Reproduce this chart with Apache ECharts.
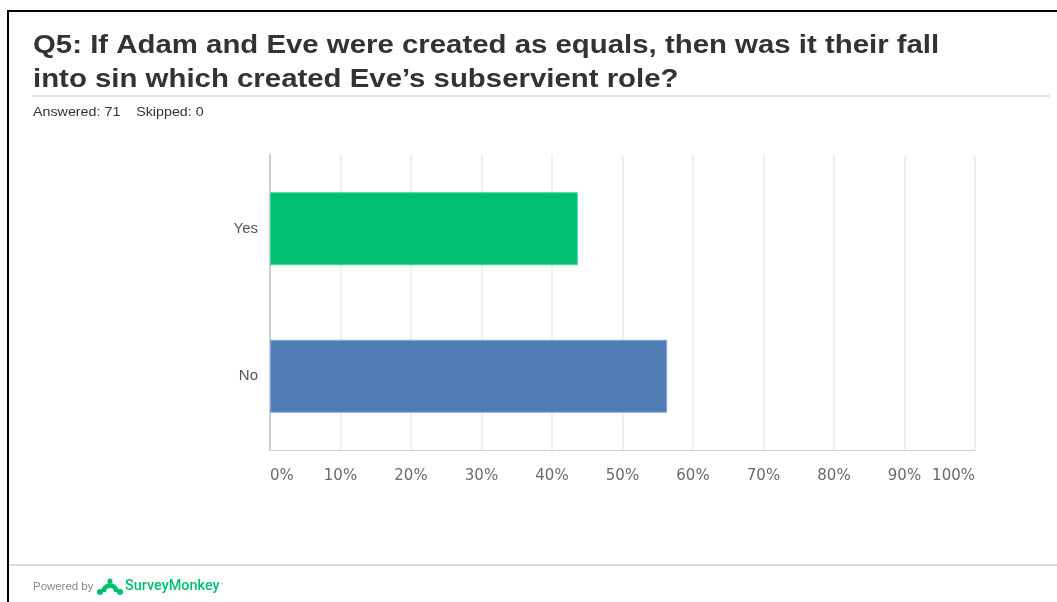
<!DOCTYPE html>
<html>
<head>
<meta charset="utf-8">
<script src="https://cdn.jsdelivr.net/npm/echarts@6/dist/echarts.min.js"></script>
<style>
html,body{margin:0;padding:0;background:#fff;}
#chart{width:1057px;height:602px;}
</style>
</head>
<body>
<div id="chart"></div>
<script>
const categories = ['Yes', 'No'];
const percentages = [43.66, 56.34];
const barColors = ['#00BF6F', '#507CB6'];
const titleLine1 = 'Q5: If Adam and Eve were created as equals, then was it their fall';
const titleLine2 = 'into sin which created Eve\u2019s subservient role?';
const answeredText = 'Answered: 71    Skipped: 0';

const chart = echarts.init(document.getElementById('chart'), null, {renderer: 'canvas'});

const SANS = '"Liberation Sans", Arial, sans-serif';

const option = {
  backgroundColor: '#fff',
  animation: false,
  grid: { left: 270, right: 82, top: 155, bottom: 152, containLabel: false },
  xAxis: {
    type: 'value',
    min: 0,
    max: 100,
    interval: 10,
    axisLine: { show: true, lineStyle: { color: '#d0d0d0', width: 1 } },
    axisTick: { show: false },
    splitLine: { show: true, lineStyle: { color: '#efefef', width: 2 } },
    axisLabel: {
      formatter: '{value}%',
      margin: 19,
      color: '#6a6a6a',
      fontSize: 15,
      fontFamily: '"DejaVu Sans", sans-serif',
      alignMinLabel: 'left',
      alignMaxLabel: 'right'
    }
  },
  yAxis: {
    type: 'category',
    data: categories,
    inverse: true,
    axisLine: { show: true, lineStyle: { color: '#cccccc', width: 2 } },
    axisTick: { show: false },
    axisLabel: {
      margin: 12,
      color: '#555',
      fontSize: 15,
      fontFamily: SANS
    }
  },
  series: [{
    type: 'bar',
    data: percentages.map((v, i) => ({
      value: v,
      itemStyle: { color: barColors[i], borderColor: i === 0 ? '#3fd89a' : '#8aa8d6', borderWidth: 1 }
    })),
    barWidth: 73,
    label: { show: false }
  }],
  graphic: {
    elements: [
      { type: 'rect', shape: { x: 7, y: 10, width: 1060, height: 2 }, style: { fill: '#000' }, silent: true },
      { type: 'rect', shape: { x: 7, y: 10, width: 2, height: 600 }, style: { fill: '#000' }, silent: true },
      { type: 'text', x: 33, y: 33, scaleX: 1.13, style: { text: titleLine1, fill: '#333', font: 'bold 26px ' + SANS, textVerticalAlign: 'top' }, silent: true },
      { type: 'text', x: 33, y: 67, scaleX: 1.13, style: { text: titleLine2, fill: '#333', font: 'bold 26px ' + SANS, textVerticalAlign: 'top' }, silent: true },
      { type: 'rect', shape: { x: 33, y: 95, width: 1017, height: 2 }, style: { fill: '#e2e2e2' }, silent: true },
      { type: 'text', x: 33, y: 107, scaleX: 1.19, style: { text: answeredText, fill: '#333', font: '12px ' + SANS, textVerticalAlign: 'top' }, silent: true },
      { type: 'rect', shape: { x: 9, y: 564, width: 1048, height: 2 }, style: { fill: '#dcdcdc' }, silent: true },
      { type: 'text', x: 33, y: 581, scaleX: 1.04, style: { text: 'Powered by', fill: '#888', font: '11px ' + SANS, textVerticalAlign: 'top' }, silent: true },
      { type: 'arc', shape: { cx: 110, cy: 592, r: 6.5, startAngle: Math.PI, endAngle: 2 * Math.PI }, style: { stroke: '#00BF6F', lineWidth: 5, fill: null }, silent: true },
      { type: 'circle', shape: { cx: 110, cy: 581, r: 2.6 }, style: { fill: '#00BF6F' }, silent: true },
      { type: 'circle', shape: { cx: 100, cy: 592, r: 3 }, style: { fill: '#00BF6F' }, silent: true },
      { type: 'circle', shape: { cx: 120, cy: 592, r: 3 }, style: { fill: '#00BF6F' }, silent: true },
      { type: 'text', x: 125, y: 579, scaleX: 1.03, style: { text: 'SurveyMonkey', fill: '#00BF6F', font: '500 14px Roboto, "Open Sans", sans-serif', textVerticalAlign: 'top' }, silent: true },
      { type: 'text', x: 221, y: 580, style: { text: '\u00b7', fill: '#00BF6F', font: '9px Roboto, sans-serif', textVerticalAlign: 'top' }, silent: true }
    ]
  }
};
chart.setOption(option);
</script>
</body>
</html>
